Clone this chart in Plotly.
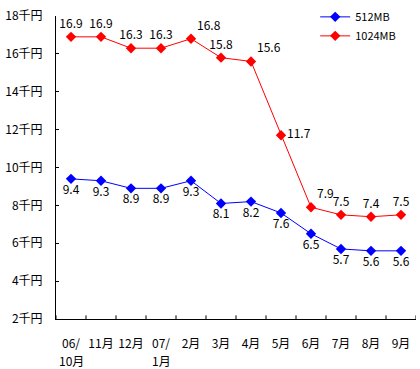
import plotly.graph_objects as go

categories = ["06/", "11月", "12月", "07/", "2月", "3月", "4月", "5月", "6月", "7月", "8月", "9月"]
second_line = ["10月", "", "", "1月", "", "", "", "", "", "", "", ""]
mb512 = [9.4, 9.3, 8.9, 8.9, 9.3, 8.1, 8.2, 7.6, 6.5, 5.7, 5.6, 5.6]
mb1024 = [16.9, 16.9, 16.3, 16.3, 16.8, 15.8, 15.6, 11.7, 7.9, 7.5, 7.4, 7.5]
ytick_vals = [2, 4, 6, 8, 10, 12, 14, 16, 18]
ytick_text = ["2千円", "4千円", "6千円", "8千円", "10千円", "12千円", "14千円", "16千円", "18千円"]

pos512 = ["bottom center"] * len(mb512)
pos1024 = ["top center"] * len(mb1024)
pos1024[4] = "top right"
pos1024[6] = "top right"
pos1024[7] = "middle right"
pos1024[8] = "top right"

FONT = "Noto Sans CJK JP"
FS = 12

xs = list(range(len(categories)))

fig = go.Figure()
fig.add_trace(go.Scatter(
    x=xs, y=mb512, name="512MB",
    mode="lines+markers+text",
    line=dict(color="#0000FF", width=1),
    marker=dict(symbol="diamond", size=8, color="#0000FF"),
    text=[f"{v:.1f}" for v in mb512], textposition=pos512,
    textfont=dict(color="black", size=FS, family=FONT),
))
fig.add_trace(go.Scatter(
    x=xs, y=mb1024, name="1024MB",
    mode="lines+markers+text",
    line=dict(color="#FF0000", width=1),
    marker=dict(symbol="diamond", size=8, color="#FF0000"),
    text=[f"{v:.1f}" for v in mb1024], textposition=pos1024,
    textfont=dict(color="black", size=FS, family=FONT),
))

fig.update_layout(
    width=420, height=369,
    margin=dict(l=56, r=4, t=16, b=50, autoexpand=False),
    paper_bgcolor="white", plot_bgcolor="white",
    font=dict(family=FONT, size=FS, color="black"),
    showlegend=True,
    legend=dict(x=0.72, y=1.045, xanchor="left", yanchor="top",
                bgcolor="rgba(0,0,0,0)", font=dict(size=11),
                itemwidth=30, tracegroupgap=0),
    xaxis=dict(
        range=[-0.5, len(categories) - 0.5], automargin=False,
        tickmode="array", tickvals=xs, ticktext=categories,
        showgrid=False, zeroline=False, showline=True, linecolor="black", linewidth=1,
        ticks="", ticklabelstandoff=14, fixedrange=True,
    ),
    yaxis=dict(
        range=[2, 18], tickmode="array", tickvals=ytick_vals, ticktext=ytick_text,
        automargin=False, fixedrange=True,
        showgrid=False, zeroline=False, showline=True, linecolor="black", linewidth=1,
        ticks="inside", ticklen=3, tickcolor="black", ticklabelstandoff=10,
    ),
)

# second line of the two-line category labels
for x, t in zip(xs, second_line):
    if t:
        fig.add_annotation(x=x, y=0, xref="x", yref="paper", text=t, showarrow=False,
                           yshift=-41, yanchor="middle", font=dict(size=FS, family=FONT))

# category boundary tick marks on x axis (inside)
for i in range(len(categories) + 1):
    fig.add_shape(type="line", xref="x", yref="paper",
                  x0=i - 0.5, x1=i - 0.5, y0=0, y1=0.012,
                  line=dict(color="black", width=1))

fig.write_html("out.html", config={"displayModeBar": False},
               post_script="document.body.style.margin='0';document.body.style.padding='0';")
